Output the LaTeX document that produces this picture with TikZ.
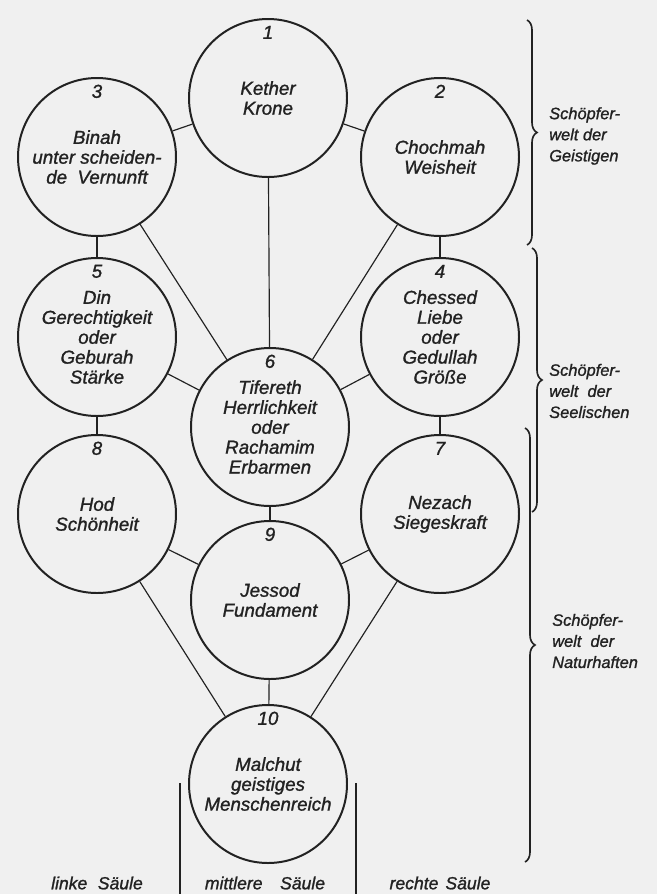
\documentclass[tikz,border=0pt]{standalone}
\usepackage{fontspec}
\setmainfont{Liberation Sans}
\newfontfamily\schrift{Liberation Sans}[FakeBold=1.2]
\usepackage{tikz}
\usetikzlibrary{decorations.pathreplacing}
\definecolor{paper}{HTML}{F0F0F0}
\definecolor{ink}{HTML}{222222}
\tikzset{
  sefira/.style={circle,draw=ink,line width=1.7pt,minimum size=47.4mm,inner sep=0pt,
    align=center,text=ink,font=\schrift\fontsize{16}{17}\selectfont\itshape},
  nummer/.style={inner sep=0pt,text=ink,font=\schrift\fontsize{16}{17}\selectfont\itshape},
  pfad/.style={draw=ink,line width=1pt},
  welt/.style={draw=ink,line width=1.4pt,decorate,decoration={brace,amplitude=3mm}},
  weltname/.style={anchor=west,align=left,inner sep=0pt,text=ink,
    font=\schrift\fontsize{14}{18}\selectfont\itshape},
  saeule/.style={inner sep=0pt,text=ink,font=\schrift\fontsize{15}{17}\selectfont\itshape}
}

\begin{document}
\begin{tikzpicture}[x=0.3mm,y=-0.3mm]
  \fill[paper] (0,0) rectangle (657,894);
  \useasboundingbox (0,0) rectangle (657,894);
%% die zehn Sefirot
  \foreach \n/\x/\y/\txt in {
      1/268/98/{Kether\\Krone},
      2/440/157/{Chochmah\\Weisheit},
      3/97/157/{Binah\\unter scheiden-\\de\ \ Vernunft},
      4/440/337/{Chessed\\Liebe\\oder\\Gedullah\\Größe},
      5/97/337/{Din\\Gerechtigkeit\\oder\\Geburah\\Stärke},
      6/270/427/{Tifereth\\Herrlichkeit\\oder\\Rachamim\\Erbarmen},
      7/440/514/{Nezach\\Siegeskraft},
      8/97/514/{Hod\\Schönheit},
      9/270/600/{Jessod\\Fundament},
      10/268/784/{Malchut\\geistiges\\Menschenreich}}
  {
    \node[sefira] (s\n) at (\x,\y) {\txt};
    \node[nummer] (z\n) at ([yshift=-4.3mm]s\n.north) {\n};
  }
%% Pfade
  \foreach \a/\b in {1/2, 1/3, 1/6, 2/4, 3/5, 2/6, 3/6, 4/6, 5/6,
                     4/7, 5/8, 6/9, 7/9, 8/9, 7/10, 8/10, 9/10}
    \draw[pfad] (s\a) -- (s\b);
%% drei Welten
  \draw[welt] (527,20) -- (527,245);
  \draw[welt] (532,248) -- (532,512);
  \draw[welt] (525,428) -- (525,862);
  \node[weltname] (w1) at (549,136) {Schöpfer-\\welt der\\Geistigen};
  \node[weltname] (w2) at (549,391) {Schöpfer-\\welt\ \ der\\Seelischen};
  \node[weltname] (w3) at (552,641) {Schöpfer-\\welt\ \ der\\Naturhaften};
%% Säulen
  \draw[pfad] (180,783) -- (180,894);
  \draw[pfad] (356,783) -- (356,894);
  \node[saeule] (links) at (97,883) {linke\hspace{0.6em}Säule};
  \node[saeule] (mitte) at (265,883) {mittlere\hspace{1em}Säule};
  \node[saeule] (rechts) at (440,883) {rechte\hspace{0.4em}Säule};
\end{tikzpicture}
\end{document}
